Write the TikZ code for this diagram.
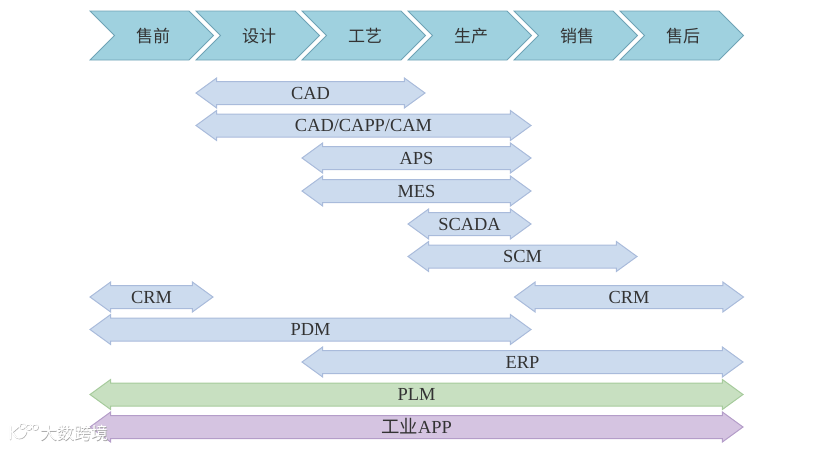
\documentclass[tikz,border=0pt]{standalone}
\usepackage{fontspec}
\setmainfont{Liberation Serif}
\newfontfamily\cjk{Noto Sans CJK SC}
\usetikzlibrary{shapes.arrows}
\definecolor{stageFill}{HTML}{9FD1DF}
\definecolor{stageLine}{HTML}{6FA3B6}
\definecolor{blueFill}{HTML}{CCDBEE}
\definecolor{blueLine}{HTML}{A9BBDB}
\definecolor{greenFill}{HTML}{C8E0C1}
\definecolor{greenLine}{HTML}{A6CB9C}
\definecolor{purpleFill}{HTML}{D5C4E1}
\definecolor{purpleLine}{HTML}{B49DC9}
\definecolor{inkText}{HTML}{333333}
\tikzset{
    span/.style={double arrow,double arrow head extend=3.5pt,double arrow tip angle=72,
        inner sep=0,text height=17pt,text depth=5pt,minimum width=29pt,line width=1pt,
        text=inkText,font=\fontsize{18.4}{18.4}\selectfont},
    bluespan/.style={span,draw=blueLine,fill=blueFill},
    greenspan/.style={span,draw=greenLine,fill=greenFill},
    purplespan/.style={span,draw=purpleLine,fill=purpleFill},
    stagelabel/.style={text=inkText,font=\cjk\fontsize{17}{17}\selectfont},
    marktext/.style={font=\cjk\fontsize{17}{17}\selectfont},
    markline/.style={line width=1.5pt,line cap=round},
}
\begin{document}
\begin{tikzpicture}[x=1pt,y=-1pt]
    \useasboundingbox (0,0) rectangle (823,448);
    % Stages
    \foreach \x/\name/\stage in {90/presale/售前,196/design/设计,302/craft/工艺,408/make/生产,514/sale/销售,620/aftersale/售后}{
        \draw[fill=stageFill,draw=stageLine,line width=0.8pt] (\x,11) -- ++(99,0) -- ++(24.5,24.5) -- ++(-24.5,24.5) -- ++(-99,0) -- ++(24.5,-24.5) -- cycle;
        \node[stagelabel] (\name) at (\x+63,36) {\stage};
    }
    % Upper bars
    \node[bluespan,minimum height=229pt] (CadBar) at (310.5,93) {CAD};
    \node[bluespan,minimum height=335pt] (CamBar) at (363.5,125.5) {CAD/CAPP/CAM};
    \node[bluespan,minimum height=229pt] (ApsBar) at (416.5,158) {APS};
    \node[bluespan,minimum height=229pt] (MesBar) at (416.5,191) {MES};
    \node[bluespan,minimum height=123pt] (ScadaBar) at (469.5,224) {SCADA};
    \node[bluespan,minimum height=229pt] (ScmBar) at (522.5,256.5) {SCM};
    % Lower bars
    \node[bluespan,minimum height=123pt] (CrmLeft) at (151.5,297) {CRM};
    \node[bluespan,minimum height=229pt] (CrmRight) at (629,297) {CRM};
    \node[bluespan,minimum height=441pt] (PdmBar) at (310.5,329.5) {PDM};
    \node[bluespan,minimum height=441pt] (ErpBar) at (522.5,362) {ERP};
    \node[greenspan,minimum height=653pt] (PlmBar) at (416.5,394.5) {PLM};
    \node[purplespan,minimum height=653pt] (AppBar) at (416.5,427) {{\cjk 工业}APP};
    % Watermark
    \node[marktext,text=black!35] (MarkShadow) at (74.6,433.6) {大数跨境};
    \node[marktext,text=white] (Mark) at (74,433) {大数跨境};
    \foreach \ink/\dx in {black!30/0.6,white/0}{
        \begin{scope}[xshift=\dx pt,yshift=-\dx pt]
            \draw[draw=\ink,markline] (10,426) -- (10,439) (20,425) -- (12,432) to[out=-50,in=180] (19,438) to[out=0,in=250] (26,432);
            \draw[draw=\ink,line width=1pt] (22,426) circle (2.8) (28.5,427) circle (2.8) (35,427) circle (2.8);
        \end{scope}
    }
\end{tikzpicture}
\end{document}
